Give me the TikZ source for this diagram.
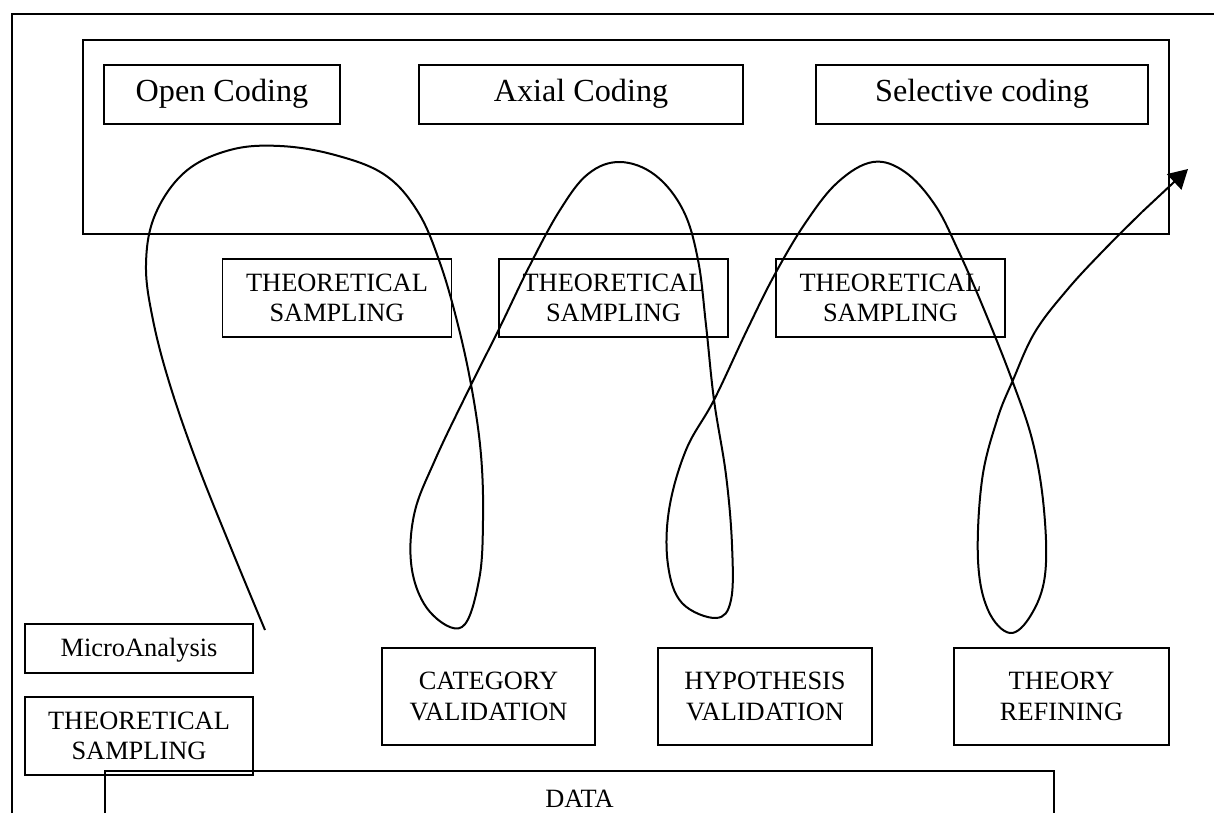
\documentclass[tikz,border=0pt]{standalone}
\usepackage{fontspec}
\setmainfont{Liberation Serif}
\usetikzlibrary{arrows.meta}
\newcommand{\smallfs}{\fontsize{13.2pt}{15.3pt}\selectfont}
\newcommand{\largefs}{\fontsize{16.1pt}{18.6pt}\selectfont}
\begin{document}
\begin{tikzpicture}[x=0.5pt,y=-0.5pt,
  bx/.style={draw, line width=0.9pt, inner sep=0pt, align=center, font=\smallfs},
  onel/.style={text height=0.75em, text depth=0pt},
  topbx/.style={bx, font=\largefs, onel, minimum height=29.5pt},
  tsbx/.style={bx, minimum width=114.5pt, minimum height=39pt},
  valbx/.style={bx, minimum height=48.5pt},
  curve/.style={line width=1pt},
  flow/.style={curve, -{Triangle[length=9.5pt,width=10.5pt]}}]
\useasboundingbox (0,0) rectangle (1214,813);
% outer frame (open to right and bottom)
\draw[line width=1pt] (11.5,813) -- (11.5,14) -- (1214,14);
% coding box
\node[draw, line width=0.8pt, minimum width=543pt, minimum height=97pt, inner sep=0pt] (coding) at (626,137) {};
\node[topbx, minimum width=118pt] (open) at (222,94.5) {Open Coding};
\node[topbx, minimum width=162pt] (axial) at (581,94.5) {Axial Coding};
\node[topbx, minimum width=166pt] (selective) at (982,94.5) {Selective coding};
% theoretical sampling boxes
\node[tsbx] (ts1) at (337,298) {THEORETICAL\\SAMPLING};
\node[tsbx] (ts2) at (613.5,298) {THEORETICAL\\SAMPLING};
\node[tsbx] (ts3) at (890.5,298) {THEORETICAL\\SAMPLING};
% lower left
\node[bx, onel, minimum width=114pt, minimum height=24.5pt] (micro) at (139,648.5) {MicroAnalysis};
\node[bx, minimum width=114pt, minimum height=39pt] (ts4) at (139,736) {THEORETICAL\\SAMPLING};
% validation boxes
\node[valbx, minimum width=106.5pt] (cat) at (488.5,696.5) {CATEGORY\\VALIDATION};
\node[valbx, minimum width=107pt] (hyp) at (765,696.5) {HYPOTHESIS\\VALIDATION};
\node[valbx, minimum width=107.5pt] (thr) at (1061.5,696.5) {THEORY\\REFINING};
% data box (cut by the page bottom)
\draw[line width=0.9pt] (105,813) -- (105,771) -- (1054,771) -- (1054,813);
\node[font=\smallfs, onel, inner sep=0pt] (data) at (579.5,800) {DATA};
% spiral
\coordinate (start) at (265,630);
\coordinate (pre) at (1142,212);
\coordinate (tip) at (1188,169);
\draw[curve] plot[smooth, tension=0.62] coordinates {
 (start) (231,548) (197,463) (170,385) (153,320) (146,265) (155,215) (185,172)
 (230,150) (280,146) (335,155) (385,175) (418,212) (440,263) (458,325) (472,390)
 (481,455) (483,520) (479,580) (462,627) (430,612) (412,570) (414,515) (435,460)
 (470,387) (500,327) (530,265) (560,210) (588,174) (620,162) (655,175) (683,210)
 (698,260) (706,325) (714,400) (726,475) (732,545) (731,600) (716,618) (682,603)
 (668,565) (669,510) (686,450) (714,400) (747,330) (775,274) (806,222) (838,182)
 (873,162) (905,172) (935,205) (958,250) (983,307) (1012,380) (1033,443)
 (1044,510) (1045,575) (1031,615) (1010,633) (988,610) (978,560) (982,480)
 (997,420) (1013,380) (1035,332) (1067,290) (1102,252) (pre)};
\draw[flow] (pre) -- (tip);
\end{tikzpicture}
\end{document}
